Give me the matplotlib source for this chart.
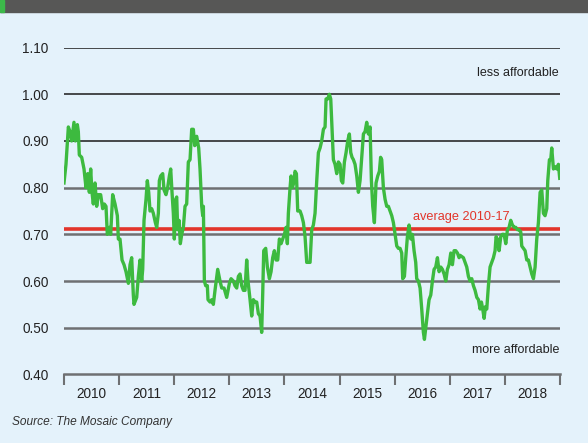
import numpy as np
import matplotlib.pyplot as plt
from matplotlib.patches import Rectangle

plt.rcParams['font.family'] = ['Liberation Sans', 'DejaVu Sans']

# weekly ratio, x given as years since the start of 2010
years_since_2010 = [
    0.000, 0.036, 0.079, 0.109, 0.139, 0.181, 0.206, 0.242, 0.260, 0.278,
    0.321, 0.363, 0.399, 0.430, 0.460, 0.484, 0.508, 0.532, 0.563, 0.593,
    0.623, 0.665, 0.702, 0.732, 0.762, 0.786, 0.823, 0.847, 0.883, 0.926,
    0.968, 0.986, 1.016, 1.053, 1.089, 1.125, 1.168, 1.198, 1.228, 1.258,
    1.270, 1.319, 1.349, 1.379, 1.410, 1.428, 1.452, 1.488, 1.512, 1.537,
    1.561, 1.591, 1.621, 1.658, 1.682, 1.712, 1.730, 1.754, 1.791, 1.815,
    1.851, 1.881, 1.912, 1.936, 1.960, 1.984, 2.002, 2.027, 2.045, 2.063,
    2.087, 2.111, 2.136, 2.166, 2.196, 2.226, 2.256, 2.287, 2.317, 2.347,
    2.372, 2.408, 2.444, 2.468, 2.499, 2.517, 2.529, 2.547, 2.571, 2.601,
    2.613, 2.650, 2.680, 2.710, 2.740, 2.789, 2.831, 2.862, 2.904, 2.952,
    3.001, 3.031, 3.073, 3.103, 3.134, 3.164, 3.194, 3.224, 3.255, 3.285,
    3.315, 3.339, 3.376, 3.406, 3.436, 3.466, 3.497, 3.527, 3.557, 3.587,
    3.606, 3.624, 3.660, 3.690, 3.727, 3.757, 3.787, 3.817, 3.848, 3.878,
    3.908, 3.938, 3.969, 3.999, 4.029, 4.053, 4.071, 4.102, 4.120, 4.144,
    4.168, 4.192, 4.217, 4.241, 4.283, 4.313, 4.344, 4.374, 4.404, 4.434,
    4.465, 4.495, 4.525, 4.555, 4.586, 4.616, 4.646, 4.676, 4.707, 4.737,
    4.755, 4.785, 4.815, 4.840, 4.864, 4.888, 4.918, 4.949, 4.979, 5.009,
    5.033, 5.058, 5.088, 5.118, 5.148, 5.178, 5.203, 5.227, 5.251, 5.281,
    5.312, 5.342, 5.372, 5.402, 5.433, 5.463, 5.493, 5.523, 5.554, 5.578,
    5.602, 5.632, 5.662, 5.693, 5.723, 5.745, 5.765, 5.795, 5.826, 5.856,
    5.886, 5.917, 5.947, 5.977, 6.007, 6.038, 6.068, 6.098, 6.128, 6.146,
    6.177, 6.201, 6.231, 6.261, 6.292, 6.322, 6.352, 6.382, 6.400, 6.431,
    6.461, 6.491, 6.521, 6.540, 6.564, 6.594, 6.624, 6.655, 6.685, 6.715,
    6.745, 6.776, 6.806, 6.836, 6.866, 6.897, 6.927, 6.957, 6.987, 7.018,
    7.048, 7.078, 7.108, 7.139, 7.169, 7.187, 7.247, 7.278, 7.308, 7.338,
    7.368, 7.399, 7.429, 7.459, 7.490, 7.520, 7.550, 7.574, 7.598, 7.623,
    7.647, 7.671, 7.701, 7.731, 7.762, 7.792, 7.822, 7.840, 7.864, 7.895,
    7.925, 7.955, 7.985, 8.016, 8.046, 8.076, 8.106, 8.137, 8.167, 8.197,
    8.227, 8.258, 8.288, 8.306, 8.336, 8.367, 8.397, 8.427, 8.457, 8.488,
    8.518, 8.548, 8.578, 8.608, 8.639, 8.669, 8.699, 8.729, 8.760, 8.778,
    8.808, 8.832, 8.850, 8.881, 8.911, 8.941, 8.971, 8.995,
]
ratio = [
    0.81, 0.85, 0.93, 0.92, 0.90, 0.94, 0.90, 0.935, 0.92, 0.87,
    0.865, 0.84, 0.80, 0.83, 0.79, 0.84, 0.79, 0.765, 0.81, 0.76,
    0.785, 0.785, 0.755, 0.765, 0.76, 0.70, 0.715, 0.70, 0.785, 0.765,
    0.74, 0.69, 0.69, 0.645, 0.635, 0.62, 0.595, 0.635, 0.65, 0.57,
    0.55, 0.565, 0.61, 0.645, 0.60, 0.625, 0.73, 0.775, 0.815, 0.79,
    0.75, 0.755, 0.745, 0.725, 0.715, 0.745, 0.815, 0.825, 0.83, 0.795,
    0.785, 0.80, 0.825, 0.84, 0.79, 0.745, 0.69, 0.775, 0.78, 0.71,
    0.73, 0.68, 0.70, 0.715, 0.76, 0.765, 0.855, 0.86, 0.925, 0.925,
    0.89, 0.91, 0.885, 0.84, 0.76, 0.74, 0.76, 0.60, 0.59, 0.59,
    0.56, 0.555, 0.56, 0.55, 0.58, 0.625, 0.60, 0.585, 0.585, 0.565,
    0.595, 0.605, 0.60, 0.59, 0.585, 0.61, 0.615, 0.59, 0.58, 0.58,
    0.645, 0.60, 0.56, 0.525, 0.56, 0.555, 0.555, 0.53, 0.525, 0.49,
    0.575, 0.665, 0.67, 0.63, 0.605, 0.62, 0.65, 0.665, 0.645, 0.645,
    0.69, 0.68, 0.69, 0.70, 0.715, 0.68, 0.745, 0.80, 0.825, 0.80,
    0.81, 0.835, 0.83, 0.75, 0.75, 0.74, 0.725, 0.695, 0.64, 0.64,
    0.64, 0.71, 0.72, 0.745, 0.815, 0.875, 0.885, 0.90, 0.925, 0.93,
    0.99, 0.99, 1.00, 0.99, 0.925, 0.86, 0.85, 0.83, 0.855, 0.85,
    0.815, 0.81, 0.855, 0.875, 0.90, 0.915, 0.875, 0.865, 0.86, 0.85,
    0.825, 0.79, 0.815, 0.865, 0.915, 0.92, 0.94, 0.915, 0.93, 0.815,
    0.76, 0.725, 0.81, 0.825, 0.835, 0.865, 0.86, 0.80, 0.775, 0.76,
    0.76, 0.75, 0.74, 0.725, 0.70, 0.675, 0.67, 0.67, 0.66, 0.605,
    0.61, 0.65, 0.695, 0.72, 0.69, 0.70, 0.665, 0.64, 0.605, 0.60,
    0.585, 0.54, 0.49, 0.475, 0.50, 0.53, 0.56, 0.57, 0.60, 0.625,
    0.63, 0.65, 0.62, 0.63, 0.625, 0.615, 0.60, 0.625, 0.635, 0.66,
    0.635, 0.665, 0.665, 0.66, 0.65, 0.655, 0.65, 0.64, 0.63, 0.61,
    0.60, 0.605, 0.59, 0.58, 0.565, 0.56, 0.54, 0.555, 0.54, 0.52,
    0.545, 0.54, 0.59, 0.63, 0.64, 0.65, 0.665, 0.695, 0.69, 0.665,
    0.695, 0.70, 0.70, 0.68, 0.71, 0.715, 0.73, 0.72, 0.715, 0.715,
    0.71, 0.71, 0.705, 0.675, 0.67, 0.665, 0.645, 0.645, 0.63, 0.615,
    0.605, 0.63, 0.69, 0.725, 0.79, 0.795, 0.745, 0.74, 0.755, 0.815,
    0.86, 0.86, 0.885, 0.84, 0.845, 0.84, 0.85, 0.82,
]
year_labels = ['2010', '2011', '2012', '2013', '2014', '2015', '2016', '2017', '2018']
y_ticks = [0.40, 0.50, 0.60, 0.70, 0.80, 0.90, 1.00, 1.10]
average_2010_17 = 0.712

bg = '#e4f2fb'
green = '#3dba3f'
red = '#e2352b'
grey = '#6e7072'

fig = plt.figure(figsize=(5.88, 4.43), dpi=100, facecolor=bg)
ax = fig.add_axes([64 / 588, 1 - 374.4 / 443, 496 / 588, 326.8 / 443])
ax.set_facecolor(bg)

# header strip (title cut off at the top)
fig.patches.append(Rectangle((0, 1 - 12 / 443), 1, 12 / 443,
                             transform=fig.transFigure, color='#575756', zorder=0))
fig.patches.append(Rectangle((0, 1 - 12 / 443), 4 / 588, 12 / 443,
                             transform=fig.transFigure, color='#3cb94a', zorder=1))

start = 2010
x = start + np.array(years_since_2010)
y = np.array(ratio)

for v in y_ticks[1:]:
    if v >= 0.9:
        ax.axhline(v, color='#1a1a1a', lw=1.1, zorder=1)
    else:
        ax.axhline(v, color=grey, lw=1.8, zorder=1)

ax.axhline(average_2010_17, color=red, lw=2.6, zorder=2)
ax.plot(x, y, color=green, lw=2.4, solid_joinstyle='round', zorder=3)

ax.set_xlim(start, start + len(year_labels))
ax.set_ylim(0.40, 1.10)

ax.set_yticks(y_ticks)
ax.set_yticklabels(['%.2f' % v for v in y_ticks], fontsize=9.8, color='#222222')
ax.tick_params(axis='y', length=0, pad=11)

ax.set_xticks(np.arange(start, start + len(year_labels) + 1))
ax.set_xticklabels([])
ax.set_xticks(np.arange(len(year_labels)) + start + 0.5, minor=True)
ax.set_xticklabels(year_labels, minor=True, fontsize=9.8, color='#222222')
ax.tick_params(axis='x', which='major', length=8, width=1.5, color=grey, direction='out')
ax.tick_params(axis='x', which='minor', length=0, pad=9)

for s in ['top', 'left', 'right']:
    ax.spines[s].set_visible(False)
ax.spines['bottom'].set_color(grey)
ax.spines['bottom'].set_linewidth(1.8)

ax.text(start + 8.98, 1.045, 'less affordable', ha='right', va='center',
        fontsize=9, color='#222222')
ax.text(start + 8.98, 0.453, 'more affordable', ha='right', va='center',
        fontsize=9, color='#222222')
ax.text(start + 6.33, 0.737, 'average 2010-17', ha='left', va='center',
        fontsize=9.2, color=red)

fig.text(12 / 588, 1 - 422 / 443, 'Source: The Mosaic Company', ha='left', va='center',
         fontsize=8.6, style='italic', color='#333333')

fig.savefig('out.png', dpi=100, facecolor=bg)
